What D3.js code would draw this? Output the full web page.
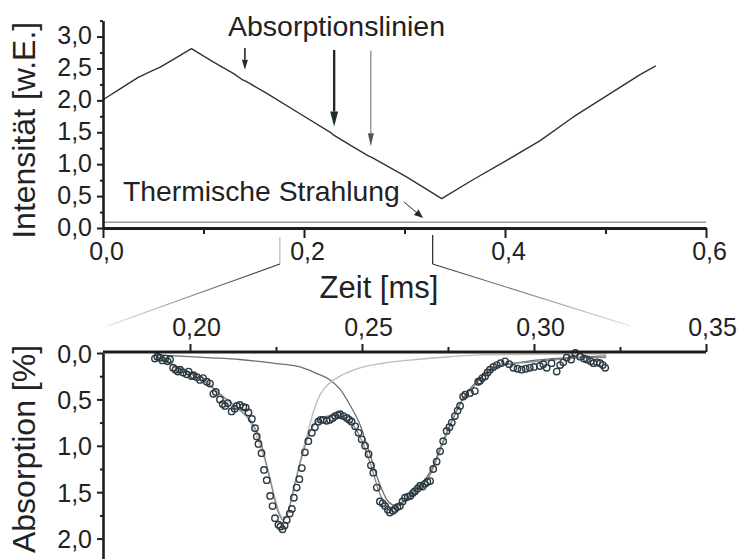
<!DOCTYPE html>
<html>
<head>
<meta charset="utf-8">
<script src="https://cdn.jsdelivr.net/npm/d3@7"></script>
<style>
  body { margin: 0; background: #fff; }
  text { font-family: "Liberation Sans", Arial, Helvetica, sans-serif; fill: #222; }
</style>
</head>
<body>
<svg id="chart" width="742" height="559"></svg>
<script>
// Top panel: detector signal over one ramp (Zeit in ms, Intensität in w.E.)
var signalTime  = [0, 0.017, 0.035, 0.047, 0.057, 0.073, 0.088, 0.110, 0.130, 0.139, 0.142, 0.163,
                   0.196, 0.227, 0.230, 0.246, 0.264, 0.267, 0.302, 0.337, 0.3685, 0.4017, 0.435,
                   0.468, 0.501, 0.534, 0.550];
var signalValue = [2.01, 2.18, 2.36, 2.45, 2.52, 2.67, 2.81, 2.60, 2.42, 2.32, 2.30, 2.11,
                   1.79, 1.49, 1.45, 1.30, 1.13, 1.11, 0.80, 0.46, 0.76, 1.06, 1.37,
                   1.74, 2.07, 2.40, 2.54];
var thermalTime  = [0, 0.6];
var thermalValue = [0.09, 0.09];

// annotation arrows (time, from value, to value)
var lineArrowTime = [0.1412, 0.2300, 0.2665];
var lineArrowFrom = [2.82, 2.79, 2.78];
var lineArrowTo   = [2.48, 1.59, 1.28];

// zoom window that is blown up in the lower panel
var zoomRange = [0.176, 0.328];

// Bottom panel: measured absorption (%) and fitted lines
var absTime = [0.1898, 0.1905, 0.1912, 0.1920, 0.1928, 0.1935, 0.1942, 0.1951, 0.1958, 0.1965, 0.1971,
               0.1980, 0.1990, 0.1996, 0.2005, 0.2010, 0.2020, 0.2029, 0.2038, 0.2049, 0.2058,
               0.2068, 0.2075, 0.2087, 0.2095, 0.2102, 0.2110, 0.2121, 0.2130, 0.2136, 0.2145,
               0.2155, 0.2162, 0.2170, 0.2180, 0.2189, 0.2194, 0.2199, 0.2208, 0.2215, 0.2223,
               0.2233, 0.2240, 0.2247, 0.2257, 0.2263, 0.2269, 0.2275, 0.2281, 0.2290, 0.2296,
               0.2302, 0.2310, 0.2318, 0.2325, 0.2334, 0.2344, 0.2354, 0.2363, 0.2373, 0.2380,
               0.2387, 0.2397, 0.2407, 0.2415, 0.2422, 0.2430, 0.2436, 0.2446, 0.2456, 0.2463,
               0.2470, 0.2480, 0.2490, 0.2499, 0.2509, 0.2519, 0.2526, 0.2533, 0.2543, 0.2552,
               0.2560, 0.2567, 0.2575, 0.2581, 0.2590, 0.2596, 0.2603, 0.2610, 0.2618, 0.2625,
               0.2633, 0.2640, 0.2648, 0.2654, 0.2662, 0.2669, 0.2676, 0.2683, 0.2690, 0.2698,
               0.2707, 0.2717, 0.2727, 0.2736, 0.2746, 0.2754, 0.2761, 0.2770, 0.2778, 0.2785,
               0.2794, 0.2800, 0.2814, 0.2828, 0.2838, 0.2843, 0.2850, 0.2858, 0.2865, 0.2872,
               0.2882, 0.2892, 0.2903, 0.2916, 0.2928, 0.2940, 0.2952, 0.2964, 0.2976, 0.2988,
               0.3000, 0.3017, 0.3027, 0.3037, 0.3051, 0.3066, 0.3076, 0.3085, 0.3095, 0.3108,
               0.3120, 0.3134, 0.3145, 0.3154, 0.3165, 0.3173, 0.3183, 0.3192, 0.3200, 0.3207];
var absValue = [0.06, 0.04, 0.05, 0.08, 0.06, 0.09, 0.07, 0.16, 0.18, 0.20, 0.18,
                0.21, 0.23, 0.20, 0.25, 0.24, 0.26, 0.29, 0.27, 0.31, 0.33,
                0.44, 0.42, 0.50, 0.55, 0.57, 0.54, 0.63, 0.60, 0.57, 0.56,
                0.58, 0.59, 0.64, 0.71, 0.81, 0.90, 0.98, 1.08, 1.26, 1.37,
                1.54, 1.65, 1.78, 1.85, 1.87, 1.90, 1.86, 1.80, 1.73, 1.68,
                1.56, 1.45, 1.36, 1.24, 1.07, 0.95, 0.86, 0.80, 0.74, 0.72,
                0.72, 0.73, 0.72, 0.70, 0.68, 0.67, 0.66, 0.68, 0.70, 0.72,
                0.74, 0.79, 0.86, 0.93, 1.00, 1.09, 1.21, 1.29, 1.45, 1.60,
                1.62, 1.65, 1.69, 1.72, 1.70, 1.68, 1.66, 1.65, 1.60, 1.56,
                1.55, 1.54, 1.51, 1.49, 1.46, 1.43, 1.44, 1.41, 1.39, 1.38,
                1.25, 1.17, 1.06, 0.95, 0.84, 0.80, 0.75, 0.68, 0.62, 0.57,
                0.47, 0.45, 0.43, 0.41, 0.31, 0.30, 0.27, 0.25, 0.21, 0.18,
                0.15, 0.13, 0.11, 0.09, 0.12, 0.16, 0.17, 0.18, 0.17, 0.16,
                0.15, 0.14, 0.12, 0.16, 0.11, 0.20, 0.13, 0.10, 0.05, 0.07,
                0.00, 0.04, 0.06, 0.07, 0.09, 0.11, 0.10, 0.11, 0.13, 0.16];

var fitTime  = [0.1900, 0.1950, 0.2000, 0.2050, 0.2100, 0.2140, 0.2175, 0.2205, 0.2235, 0.2255, 0.2270,
                0.2285, 0.2305, 0.2325, 0.2345, 0.2365, 0.2390, 0.2420, 0.2450, 0.2475, 0.2500,
                0.2525, 0.2550, 0.2570, 0.2590, 0.2610, 0.2640, 0.2670, 0.2700, 0.2730, 0.2760,
                0.2790, 0.2820, 0.2850, 0.2880, 0.2920, 0.2980, 0.3040, 0.3100, 0.3160, 0.3210];
var fitValue = [0.04, 0.12, 0.22, 0.33, 0.48, 0.60, 0.72, 0.95, 1.40, 1.70, 1.80,
                1.72, 1.40, 1.12, 0.88, 0.75, 0.69, 0.67, 0.70, 0.78, 0.95,
                1.20, 1.50, 1.64, 1.68, 1.64, 1.55, 1.45, 1.30, 1.02, 0.75,
                0.52, 0.38, 0.25, 0.16, 0.12, 0.10, 0.08, 0.06, 0.05, 0.05];

var line1Time  = [0.1910, 0.1980, 0.2040, 0.2087, 0.2136, 0.2174, 0.2203, 0.2227, 0.2247, 0.2262, 0.2270,
                  0.2278, 0.2291, 0.2305, 0.2320, 0.2339, 0.2360, 0.2378, 0.2407, 0.2436, 0.2494,
                  0.2562, 0.2659, 0.2756, 0.2843, 0.3000, 0.3210];
var line1Value = [0.07, 0.18, 0.27, 0.45, 0.59, 0.74, 0.99, 1.27, 1.56, 1.74, 1.77,
                  1.76, 1.63, 1.42, 1.17, 0.90, 0.62, 0.45, 0.32, 0.25, 0.16,
                  0.11, 0.07, 0.04, 0.02, 0.015, 0.01];

var line2Time  = [0.1903, 0.2049, 0.2145, 0.2242, 0.2320, 0.2368, 0.2407, 0.2436, 0.2465, 0.2494, 0.2523,
                  0.2552, 0.2576, 0.2596, 0.2615, 0.2640, 0.2670, 0.2700, 0.2730, 0.2760, 0.2790,
                  0.2820, 0.2850, 0.2900, 0.3000, 0.3100, 0.3210];
var line2Value = [0.02, 0.05, 0.07, 0.11, 0.15, 0.22, 0.29, 0.39, 0.56, 0.77, 1.09,
                  1.42, 1.60, 1.64, 1.61, 1.53, 1.42, 1.27, 1.00, 0.74, 0.51,
                  0.36, 0.25, 0.15, 0.08, 0.05, 0.03];

var topXTicks = [0, 0.2, 0.4, 0.6];
var topXMinor = [0.1, 0.3, 0.5];
var topYTicks = [0, 0.5, 1.0, 1.5, 2.0, 2.5, 3.0];
var topYMinor = [0.25, 0.75, 1.25, 1.75, 2.25, 2.75, 3.25];
var botXTicks = [0.20, 0.25, 0.30, 0.35];
var botXMinor = [0.225, 0.275, 0.325];
var botYTicks = [0, 0.5, 1.0, 1.5, 2.0];
var botYMinor = [0.25, 0.75, 1.25, 1.75];

///////////////////////////////////////////////////////////////////////////////

var de = d3.formatLocale({decimal: ",", thousands: ".", grouping: [3], currency: ["", " €"]});
var f1 = de.format(".1f");
var f2 = de.format(".2f");

var svg = d3.select("#chart");
var ink = "#1e1e1e";

var xT = d3.scaleLinear().domain([0, 0.6]).range([103, 706]);
var yT = d3.scaleLinear().domain([0, 3.25]).range([228, 20.6]);
var xB = d3.scaleLinear().domain([0.175, 0.35]).range([104, 706]);
var yB = d3.scaleLinear().domain([0, 2.22]).range([353, 559]);

function styleAxis(g, width) {
  g.select(".domain").attr("stroke", ink).attr("stroke-width", width);
  g.selectAll(".tick line").attr("stroke", ink).attr("stroke-width", 2);
  g.selectAll(".tick text").attr("font-size", 25).attr("fill", "#222")
    .style("font-family", '"Liberation Sans", Arial, sans-serif');
}

// --- top panel -------------------------------------------------------------

svg.append("path")
  .attr("fill", "none").attr("stroke", "#9a9a9a").attr("stroke-width", 1.6)
  .attr("d", d3.line().x(function (d) { return xT(d); })
    .y(function (d, i) { return yT(thermalValue[i]); })(thermalTime));

svg.append("path")
  .attr("fill", "none").attr("stroke", "#26363c").attr("stroke-width", 1.4)
  .attr("stroke-linejoin", "round")
  .attr("d", d3.line().x(function (d) { return xT(d); })
    .y(function (d, i) { return yT(signalValue[i]); })(signalTime));

var gxT = svg.append("g").attr("transform", "translate(0,228)")
  .call(d3.axisBottom(xT).tickValues(topXTicks).tickSize(10).tickSizeOuter(0).tickFormat(f1));
styleAxis(gxT, 3.2);
gxT.selectAll(".tick text").attr("y", 32).attr("dy", 0).attr("dx", 3);
var gxTm = svg.append("g").attr("transform", "translate(0,228)")
  .call(d3.axisBottom(xT).tickValues(topXMinor).tickSize(6).tickFormat(""));
styleAxis(gxTm, 0);
gxTm.select(".domain").remove();

var gyT = svg.append("g").attr("transform", "translate(103,0)")
  .call(d3.axisLeft(yT).tickValues(topYTicks).tickSize(6).tickSizeOuter(0).tickFormat(f1));
styleAxis(gyT, 2.6);
gyT.selectAll(".tick text").attr("x", -11).attr("dy", 7);
var gyTm = svg.append("g").attr("transform", "translate(103,0)")
  .call(d3.axisLeft(yT).tickValues(topYMinor).tickSize(3).tickFormat(""));
styleAxis(gyTm, 0);
gyTm.select(".domain").remove();

svg.append("text")
  .attr("transform", "translate(35," + ((yT(3.25) + yT(0)) / 2 + 6) + ") rotate(-90)")
  .attr("text-anchor", "middle").attr("font-size", 32)
  .text("Intensität [w.E.]");

svg.append("text").attr("x", 379).attr("y", 298)
  .attr("text-anchor", "middle").attr("font-size", 31)
  .text("Zeit [ms]");

// arrows
function arrow(x1, y1, x2, y2, width, color, headL, headW) {
  var a = Math.atan2(y2 - y1, x2 - x1);
  var bx = x2 - headL * Math.cos(a), by = y2 - headL * Math.sin(a);
  svg.append("line").attr("x1", x1).attr("y1", y1).attr("x2", bx).attr("y2", by)
    .attr("stroke", color).attr("stroke-width", width);
  var px = -Math.sin(a) * headW / 2, py = Math.cos(a) * headW / 2;
  svg.append("path")
    .attr("d", "M" + x2 + "," + y2 + "L" + (bx + px) + "," + (by + py) +
               "L" + (bx - px) + "," + (by - py) + "Z")
    .attr("fill", color);
}
var arrowWidth = [1.6, 2.4, 0.9];
var arrowColor = ["#1e2a2e", "#1e2a2e", "#555"];
var arrowHead  = [[10, 6], [15, 8], [13, 6]];
lineArrowTime.forEach(function (t, i) {
  arrow(xT(t), yT(lineArrowFrom[i]), xT(t), yT(lineArrowTo[i]),
        arrowWidth[i], arrowColor[i], arrowHead[i][0], arrowHead[i][1]);
});
arrow(xT(0.2994), yT(0.41), xT(0.3185), yT(0.155), 1, "#1e2a2e", 9, 7);

svg.append("text").attr("x", 336.5).attr("y", 35.5)
  .attr("text-anchor", "middle").attr("font-size", 28.5)
  .text("Absorptionslinien");
svg.append("text").attr("x", 123).attr("y", 201)
  .attr("font-size", 28.3)
  .text("Thermische Strahlung");

// --- zoom connectors --------------------------------------------------------

var defs = svg.append("defs");
function grad(id, x1, y1, x2, y2, c1, c2) {
  var g = defs.append("linearGradient").attr("id", id).attr("gradientUnits", "userSpaceOnUse")
    .attr("x1", x1).attr("y1", y1).attr("x2", x2).attr("y2", y2);
  g.append("stop").attr("offset", 0).attr("stop-color", c1);
  g.append("stop").attr("offset", 1).attr("stop-color", c2);
}
var kneeY = 264, topY = 237, endY = 326;
zoomRange.forEach(function (t, i) {
  var xa = xT(t), xb = xB(t);
  svg.append("line").attr("x1", xa).attr("y1", topY - (i ? 2 : 0)).attr("x2", xa).attr("y2", kneeY)
    .attr("stroke", i ? "#333" : "#b0b0b0").attr("stroke-width", i ? 1.3 : 1.1);
  grad("cg" + i, xa, kneeY, xb, endY, "#333", "#e4e4e4");
  svg.append("line").attr("x1", xa).attr("y1", kneeY).attr("x2", xb).attr("y2", endY)
    .attr("stroke", "url(#cg" + i + ")").attr("stroke-width", 1.1);
});

// --- bottom panel -----------------------------------------------------------

function curve(ts, vs, color, w) {
  svg.append("path")
    .attr("fill", "none").attr("stroke", color).attr("stroke-width", w)
    .attr("stroke-linejoin", "round")
    .attr("d", d3.line().curve(d3.curveMonotoneX)
      .x(function (d) { return xB(d); })
      .y(function (d, i) { return yB(vs[i]); })(ts));
}
curve(line2Time, line2Value, "#6e6e6e", 1.3);
curve(line1Time, line1Value, "#bdbdbd", 1.4);
curve(fitTime, fitValue, "#8c8c8c", 1.4);

svg.append("g").selectAll("circle")
  .data(absTime)
  .enter().append("circle")
  .attr("cx", function (d) { return xB(d); })
  .attr("cy", function (d, i) { return yB(absValue[i]); })
  .attr("r", 3.2)
  .attr("fill", "none")
  .attr("stroke", "#2b3942")
  .attr("stroke-width", 1.4);

var gxB = svg.append("g").attr("transform", "translate(0,352)")
  .call(d3.axisTop(xB).tickValues(botXTicks).tickSize(8).tickSizeOuter(0).tickFormat(f2));
styleAxis(gxB, 2.8);
gxB.selectAll(".tick text").attr("y", -16).attr("dy", 0).attr("dx", 6);
var gxBm = svg.append("g").attr("transform", "translate(0,352)")
  .call(d3.axisTop(xB).tickValues(botXMinor).tickSize(5).tickFormat(""));
styleAxis(gxBm, 0);
gxBm.select(".domain").remove();
gxB.select(".domain").attr("d", "M103,0H706");

var gyB = svg.append("g").attr("transform", "translate(103,0)")
  .call(d3.axisLeft(yB).tickValues(botYTicks).tickSize(6).tickSizeOuter(0).tickFormat(f1));
styleAxis(gyB, 2.6);
gyB.selectAll(".tick text").attr("x", -11).attr("dy", 9);
var gyBm = svg.append("g").attr("transform", "translate(103,0)")
  .call(d3.axisLeft(yB).tickValues(botYMinor).tickSize(3).tickFormat(""));
styleAxis(gyBm, 0);
gyBm.select(".domain").remove();

svg.append("text")
  .attr("transform", "translate(35,449) rotate(-90)")
  .attr("text-anchor", "middle").attr("font-size", 32)
  .text("Absorption [%]");
</script>
</body>
</html>
